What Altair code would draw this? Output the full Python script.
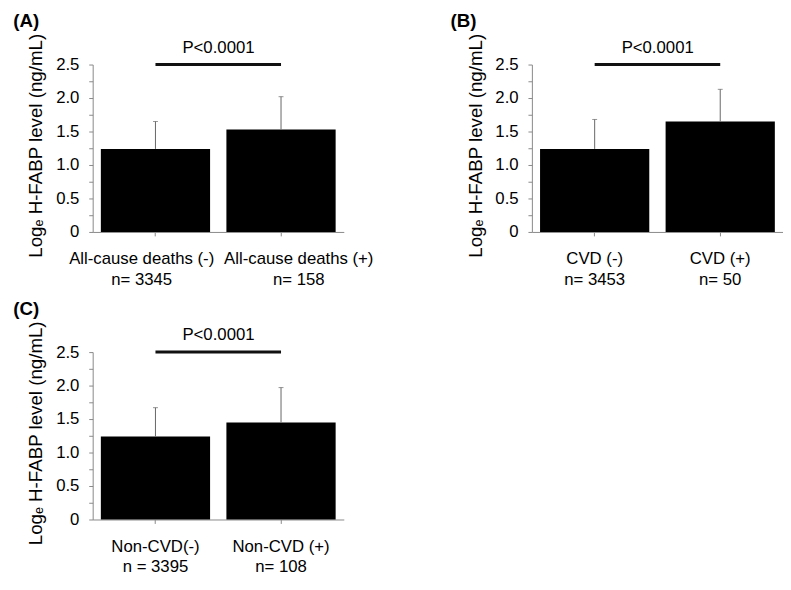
import altair as alt
import pandas as pd

# ---- data ----
panel_ids = ["(A)", "(B)", "(C)"]
categories = [
    ["All-cause deaths (-)|n= 3345", "All-cause deaths (+)|n= 158"],
    ["CVD (-)|n= 3453", "CVD (+)|n= 50"],
    ["Non-CVD(-)|n = 3395", "Non-CVD (+)|n= 108"],
]
means = [
    [1.24, 1.53],
    [1.24, 1.65],
    [1.24, 1.45],
]
upper = [
    [1.65, 2.02],
    [1.68, 2.13],
    [1.67, 1.97],
]
p_labels = ["P<0.0001", "P<0.0001", "P<0.0001"]
y_ticks = [0, 0.25, 0.5, 0.75, 1.0, 1.25, 1.5, 1.75, 2.0, 2.25, 2.5]
y_title = "Logₑ H-FABP level (ng/mL)"

FONT = "Arial, Liberation Sans, sans-serif"
W, H = 255, 170
title_dx = [-14, -16, -14]
label_shift = [(-14, 18), (0, 0), (0, 0)]


def panel(i):
    df = pd.DataFrame({"cat": categories[i], "mean": means[i], "upper": upper[i]})
    pdf = pd.DataFrame({"a": [categories[i][0]], "b": [categories[i][1]],
                        "y": [2.5], "label": [p_labels[i]]})
    xscale = alt.Scale(domain=categories[i], paddingInner=0.13, paddingOuter=0.065)
    yscale = alt.Scale(domain=[0, 2.5], nice=False)
    x = alt.X("cat:N", scale=xscale, sort=categories[i], axis=alt.Axis(
        title=None, labelAngle=0, labelExpr="split(datum.label, '|')",
        labelFontSize=17, labelFont=FONT, labelColor="black", labelLineHeight=21,
        labelPadding=15, tickSize=4, tickColor="#888", domainColor="#888",
        labelBaseline="top", labelOverlap=False,
        labelOffset={"condition": {"test": "datum.index < 0.5", "value": label_shift[i][0]},
                     "value": label_shift[i][1]}))
    y = alt.Y("mean:Q", scale=yscale, axis=alt.Axis(
        title=y_title, values=y_ticks, tickCount=50, labelOverlap=False,
        labelExpr="datum.value == 0 ? '0' : (round(datum.value * 100) % 50 == 0 ? format(datum.value, '.1f') : '')",
        labelFontSize=17, labelFont=FONT, labelColor="black", labelPadding=10,
        tickSize=4, tickColor="#888", domainColor="#888", grid=False,
        titleFont=FONT, titleFontSize=19, titleFontWeight="normal", titleColor="black",
        titlePadding=10, titleY=H / 2 - 3))
    bars = alt.Chart(df).mark_bar(color="black").encode(x=x, y=y)
    err = alt.Chart(df).mark_rule(color="#666", strokeWidth=1).encode(
        x=alt.X("cat:N", scale=xscale, sort=categories[i]),
        y=alt.Y("mean:Q", scale=yscale), y2="upper:Q")
    cap = alt.Chart(df).mark_tick(color="#666", thickness=1, size=5).encode(
        x=alt.X("cat:N", scale=xscale, sort=categories[i]),
        y=alt.Y("upper:Q", scale=yscale))
    prule = alt.Chart(pdf).mark_rule(color="#111", strokeWidth=3).encode(
        x=alt.X("a:N", scale=xscale), x2="b:N", y=alt.Y("y:Q", scale=yscale))
    ptext = alt.Chart(pdf).mark_text(fontSize=17, font=FONT, color="black",
                                     dx=64, dy=-17).encode(
        x=alt.X("a:N", scale=xscale), y=alt.Y("y:Q", scale=yscale), text="label:N")
    return alt.layer(bars, err, cap, prule, ptext).properties(
        width=W, height=H,
        title=alt.TitleParams(panel_ids[i], anchor="start", font=FONT, fontSize=19,
                              fontWeight="bold", color="black", dx=title_dx[i],
                              offset=2))


top = alt.hconcat(panel(0), panel(1), spacing=78)
chart = alt.vconcat(top, panel(2), spacing=13).properties(
    padding={"left": 5, "top": 0, "right": 0, "bottom": 0}
).configure_view(stroke=None)

chart.save("out.html", embed_options={"renderer": "svg", "actions": False})
